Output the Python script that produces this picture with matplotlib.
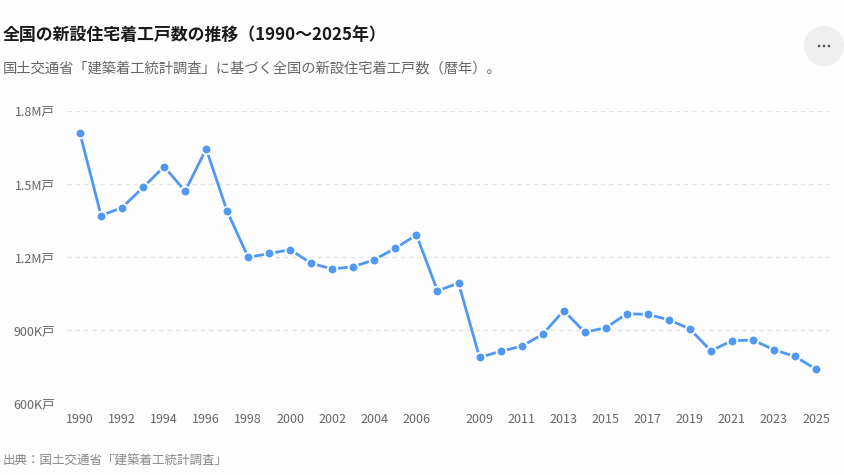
import matplotlib
matplotlib.use("Agg")
import matplotlib.pyplot as plt
from matplotlib.patches import Circle

plt.rcParams['font.family'] = ['Noto Sans CJK JP', 'DejaVu Sans']

years = list(range(1990, 2026))
starts = [1707109, 1370126, 1402590, 1485684, 1570252, 1470330, 1643266, 1387014,
          1198295, 1214601, 1229843, 1173858, 1151016, 1160083, 1189049, 1236175,
          1290391, 1060741, 1093519, 788410, 813126, 834117, 882797, 980025,
          892261, 909299, 967237, 964641, 942370, 905123, 815340, 856484,
          859529, 819623, 792195, 740000]
xtick_years = [1990, 1992, 1994, 1996, 1998, 2000, 2002, 2004, 2006,
               2009, 2011, 2013, 2015, 2017, 2019, 2021, 2023, 2025]
ytick_vals = [600000, 900000, 1200000, 1500000, 1800000]
ytick_labels = ['600K戸', '900K戸', '1.2M戸', '1.5M戸', '1.8M戸']

title = '全国の新設住宅着工戸数の推移（1990〜2025年）'
subtitle = '国土交通省「建築着工統計調査」に基づく全国の新設住宅着工戸数（暦年）。'
source = '出典：国土交通省「建築着工統計調査」'

W, H = 844, 475
bg = '#FDFDFD'
fig = plt.figure(figsize=(W / 100, H / 100), dpi=100, facecolor=bg)
ax = fig.add_axes([67 / W, 1 - 403.3 / H, (829 - 67) / W, (403.3 - 110.7) / H])
ax.set_facecolor(bg)

ax.plot(years, starts, color='#4F98F4', lw=2.0, marker='o', markersize=7,
        markerfacecolor='#4F98F4', markeredgecolor='white', markeredgewidth=1.3,
        clip_on=False, zorder=3)

ax.set_xlim(1990 - 13 / 21.03, 2025 + 13 / 21.03)
ax.set_ylim(600000, 1800000)
ax.set_yticks(ytick_vals)
ax.set_yticklabels(ytick_labels)
ax.set_xticks(xtick_years)
ax.set_xticklabels([str(y) for y in xtick_years])
ax.tick_params(axis='both', length=0, labelsize=9, labelcolor='#666666')
ax.tick_params(axis='y', pad=9)
ax.tick_params(axis='x', pad=7)
for s in ax.spines.values():
    s.set_visible(False)
ax.grid(axis='y', color='#E3E3E3', lw=1, linestyle=(0, (3, 3)))
ax.set_axisbelow(True)

fig.text(3 / W, 1 - 35 / H, title, fontsize=12.2, fontweight='bold', color='#1a1a1a',
         ha='left', va='center')
fig.text(3 / W, 1 - 68 / H, subtitle, fontsize=10.3, color='#666666',
         ha='left', va='center')
fig.text(3 / W, 1 - 461 / H, source, fontsize=9, color='#888888',
         ha='left', va='center')

# menu button
bax = fig.add_axes([0, 0, 1, 1], facecolor='none')
bax.set_xlim(0, W)
bax.set_ylim(H, 0)
bax.axis('off')
bax.add_patch(Circle((824, 46), 20, facecolor='#EFEFEF', edgecolor='none'))
for dx in (-5, 0, 5):
    bax.add_patch(Circle((824 + dx, 46), 1.3, facecolor='#555555', edgecolor='none'))

fig.savefig('out.png', dpi=100, facecolor=bg)
